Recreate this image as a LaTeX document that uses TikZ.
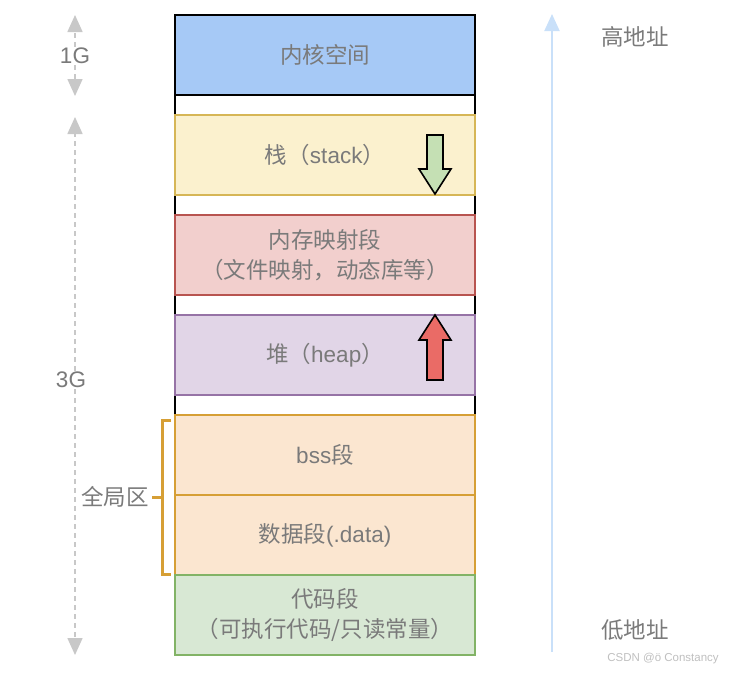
\documentclass[tikz,border=0pt]{standalone}
\usepackage{fontspec}
\setmainfont{Liberation Sans}
\newfontfamily\cjk{Noto Sans CJK SC}
\usetikzlibrary{arrows.meta}
\definecolor{txt}{HTML}{7A7A7A}
\definecolor{kfill}{HTML}{A6C9F6}
\definecolor{sfill}{HTML}{FBF1CE}\definecolor{sdraw}{HTML}{D6B656}
\definecolor{mfill}{HTML}{F2CFCD}\definecolor{mdraw}{HTML}{B85450}
\definecolor{hfill}{HTML}{E1D5E7}\definecolor{hdraw}{HTML}{9673A6}
\definecolor{gfill}{HTML}{FBE6D0}\definecolor{gdraw}{HTML}{D69F35}
\definecolor{cfill}{HTML}{D8E8D4}\definecolor{cdraw}{HTML}{82B366}
\definecolor{dimgray}{HTML}{C8C8C8}
\definecolor{addr}{HTML}{C9E0F9}
\definecolor{garrow}{HTML}{C5E0B4}
\definecolor{rarrow}{HTML}{EA6B66}
\begin{document}
\begin{tikzpicture}[x=1pt,y=-1pt,
  seg/.style={draw, line width=1.4pt, minimum width=300pt, minimum height=80pt,
    inner sep=0pt, outer sep=0pt, align=center, text=txt,
    font=\fontsize{22.5}{30}\selectfont},
  lbl/.style={text=txt, font=\fontsize{22.5}{26}\selectfont, inner sep=1pt},
  dim/.style={dimgray, line width=1.6pt, dash pattern=on 5pt off 4pt,
    -{Triangle[length=17pt,width=15pt]}},
  fat/.style={draw=black, line width=1.6pt, line join=miter}]
\useasboundingbox (0,0) rectangle (736,672);
% column outline
\draw[line width=2pt, fill=white] (175,15) rectangle (475,415);
\node[seg, fill=kfill, draw=black] (kern) at (325,55) {\cjk 内核空间};
\node[seg, fill=sfill, draw=sdraw] (stack) at (325,155) {{\cjk 栈（}stack{\cjk ）}};
\node[seg, fill=mfill, draw=mdraw] (mmap) at (325,255) {\cjk 内存映射段\\\cjk （文件映射，动态库等）};
\node[seg, fill=hfill, draw=hdraw] (heap) at (325,355) {{\cjk 堆（}heap{\cjk ）}};
\node[seg, fill=gfill, draw=gdraw] (bss) at (325,455) {bss{\cjk 段}};
\node[seg, fill=gfill, draw=gdraw] (data) at (325,535) {{\cjk 数据段}(.data)};
\node[seg, fill=cfill, draw=cdraw] (code) at (325,615) {\cjk 代码段\\\cjk （可执行代码/只读常量）};
% growth arrows
\filldraw[fat, fill=garrow] (427,135) -- (443,135) -- (443,169) -- (451,169) -- (435,194) -- (419,169) -- (427,169) -- cycle;
\filldraw[fat, fill=rarrow] (427,380) -- (443,380) -- (443,340) -- (451,340) -- (435,315) -- (419,340) -- (427,340) -- cycle;
% dimension lines
\coordinate (g1t) at (75,15);
\coordinate (g1b) at (75,96);
\coordinate (g3t) at (75,117);
\coordinate (g3b) at (75,655);
\node[lbl, fill=white] (g1) at (75,56) {1G};
\node[lbl, fill=white] (g3) at (71,380) {3G};
\draw[dim] (g1) -- (g1t);
\draw[dim] (g1) -- (g1b);
\draw[dim] (g3t |- g3.north) -- (g3t);
\draw[dim] (g3b |- g3.south) -- (g3b);
% bracket
\draw[gdraw, line width=3pt] (171,420) -- (162,420) -- (162,574) -- (171,574);
\draw[gdraw, line width=3pt] (162,497) -- (152,497);
\node[lbl, anchor=east, font=\cjk\fontsize{22.5}{26}\selectfont] (glob) at (150,497) {全局区};
% address arrow
\coordinate (alow) at (552,652);
\coordinate (ahigh) at (552,14);
\draw[addr, line width=2pt, -{Triangle[length=17pt,width=15pt]}] (alow) -- (ahigh);
\node[lbl, font=\cjk\fontsize{22.5}{26}\selectfont] (hi) at (635,37) {高地址};
\node[lbl, font=\cjk\fontsize{22.5}{26}\selectfont] (lo) at (635,630) {低地址};
\node[text=black!25, font=\fontsize{11.5}{13}\selectfont, inner sep=0pt] (wm) at (663,659) {CSDN @ö Constancy};
\end{tikzpicture}
\end{document}
